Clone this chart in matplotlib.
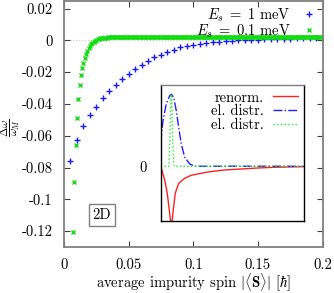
import numpy as np
import matplotlib
matplotlib.use('Agg')
import matplotlib.pyplot as plt

plt.rcParams['font.family'] = 'serif'
plt.rcParams['font.serif'] = ['cmr10', 'DejaVu Serif']
plt.rcParams['mathtext.fontset'] = 'cm'
plt.rcParams['axes.unicode_minus'] = False
plt.rcParams['font.size'] = 10.5

# main panel: E_s = 1 meV (blue +), step 0.005
blue_x = np.arange(1, 41) * 0.005
blue_y = [-0.0756, -0.0628, -0.0539, -0.0472, -0.0420, -0.0365, -0.0319, -0.0281,
          -0.0244, -0.0209, -0.0180, -0.0153, -0.0128, -0.0108, -0.0091, -0.0074,
          -0.0059, -0.0044, -0.0037, -0.0030, -0.0023, -0.0017, -0.0012, -0.0008,
          -0.0005, -0.0002, 0.0000, 0.0002, 0.0004, 0.0005, 0.0007, 0.0008,
          0.0009, 0.0010, 0.0011, 0.0012, 0.0012, 0.0013, 0.0013, 0.0014]

# main panel: E_s = 0.1 meV (green x), step 0.001 from 0.007
green_x = np.arange(7, 201) * 0.001
green_y = ([-0.1207, -0.0893, -0.0661, -0.0491, -0.0372, -0.0283, -0.0221, -0.0175,
            -0.0141, -0.0111, -0.0087, -0.0065, -0.0046, -0.0033, -0.0024, -0.0015,
            -0.0008, -0.0002, 0.0003, 0.0006, 0.0009, 0.0012, 0.0013, 0.0015,
            0.0016, 0.0017, 0.0017, 0.0018, 0.0018, 0.0019, 0.0019, 0.0020, 0.0020, 0.0020]
           + [0.0021] * 10 + [0.0022] * 50 + [0.0023] * 100)

xticks = [0, 0.05, 0.1, 0.15, 0.2]
xticklabels = ['0', '0.05', '0.1', '0.15', '0.2']
yticks = [0.02, 0, -0.02, -0.04, -0.06, -0.08, -0.1, -0.12]
yticklabels = ['0.02', '0', '-0.02', '-0.04', '-0.06', '-0.08', '-0.1', '-0.12']

# inset curves (arbitrary units)
renorm_u = [0, 0.028, 0.046, 0.060, 0.069, 0.074, 0.080, 0.088, 0.102, 0.126, 0.168,
            0.214, 0.331, 0.448, 0.564, 0.680, 0.797, 1.0]
renorm_v = [0, -0.19, -0.375, -0.607, -0.76, -1.5, -0.76, -0.607, -0.375, -0.236, -0.167,
            -0.125, -0.079, -0.051, -0.038, -0.024, -0.014, -0.006]
distr1_u = [0, 0.016, 0.039, 0.063, 0.074, 0.091, 0.109, 0.126, 0.144, 0.168, 0.203, 0.238, 1.0]
distr1_v = [0.333, 0.633, 0.865, 0.98, 1.0, 0.958, 0.772, 0.54, 0.31, 0.125, 0.032, 0, 0]
distr2_u = [0, 0.058, 0.064, 0.069, 0.074, 0.079, 0.084, 0.093, 1.0]
distr2_v = [0, 0, 0.35, 0.8, 1.0, 0.8, 0.35, 0, 0]

fig = plt.figure(figsize=(3.34, 2.93), dpi=100)
ax = fig.add_axes([0.1916, 0.157, 0.774, 0.841])

ax.axhline(0, color='#c8c8c8', lw=0.8, ls=':', zorder=0)
ax.plot(blue_x, blue_y, ls='none', marker='+', ms=4, mew=1, color='#1a1aff',
        label=r'$E_s\;=\;1$ meV')
ax.plot(green_x, green_y, ls='none', marker='x', ms=3, mew=1, color='#11dd11',
        label=r'$E_s\;=\;0.1$ meV')

ax.set_xlim(0, 0.2)
ax.set_ylim(-0.13, 0.025)
ax.set_xticks(xticks)
ax.set_xticklabels(xticklabels)
ax.set_yticks(yticks)
ax.set_yticklabels(yticklabels)
ax.tick_params(direction='in', length=4, width=0.8, top=True, right=True,
               color='#404040', pad=8)
for s in ax.spines.values():
    s.set_color('#808080')
    s.set_linewidth(1.3)

ax.set_xlabel(r'average impurity spin $|\langle\mathbf{S}\rangle|$ $[\hbar]$', labelpad=0)
fig.text(11 / 334, 1 - 128 / 293, r'$\frac{\Delta\omega}{\omega_M}$', rotation=90,
         ha='center', va='center', fontsize=11.5)

ax.legend(loc='upper right', markerfirst=False, frameon=False, handlelength=1.0,
          handletextpad=0.8, labelspacing=-0.12, borderaxespad=0.0)

fig.text(101.7 / 334, 1 - 215 / 293, '2D', ha='center', va='center',
         bbox=dict(boxstyle='square,pad=0.25', fc='white', ec='#808080', lw=1))

# inset
ins = fig.add_axes([0.4811, 0.2468, 0.4281, 0.4631])
ins.plot(renorm_u, renorm_v, color='#ff2020', lw=1, label='renorm.')
ins.plot(distr1_u, distr1_v, color='#2020ff', lw=1, ls='-.', label='el. distr.')
ins.plot(distr2_u, distr2_v, color='#20ee20', lw=1, ls=':', label='el. distr.')
ins.set_xlim(0, 1)
ins.set_ylim(-0.756, 1.129)
ins.set_xticks([])
ins.set_yticks([0])
ins.set_yticklabels(['0'])
ins.tick_params(length=0, pad=10)
for s in ins.spines.values():
    s.set_color('black')
    s.set_linewidth(1)
ins.spines['top'].set_color('#808080')
ins.legend(loc='upper right', markerfirst=False, frameon=False, handlelength=1.7,
           handletextpad=0.6, labelspacing=0.0, borderaxespad=0.0)

fig.savefig('out.png', dpi=100)
